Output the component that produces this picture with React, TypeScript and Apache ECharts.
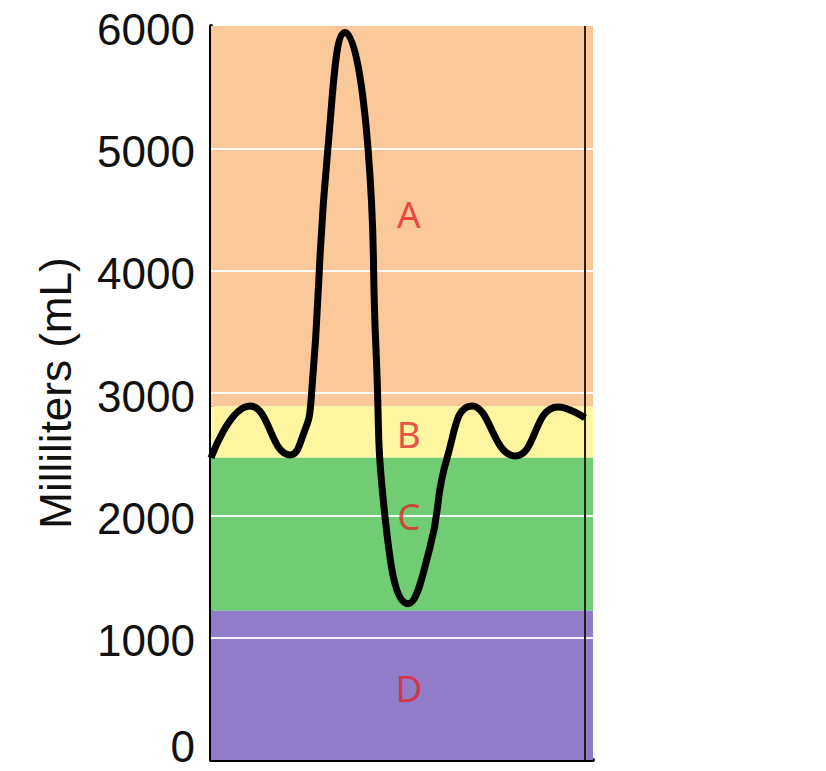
import React, { useEffect, useRef } from "react";
import * as echarts from "echarts";

// Spirogram trace: time position (0-100 across the chart) and volume in mL
const traceX = [0, 10.2, 20.7, 24.3, 26.2, 30.6, 35.1, 41.1, 43.2, 45.5, 51.6, 57.3, 61.8, 68.3, 79.6, 90.8, 97.9];
const traceY = [2470, 2894, 2494, 2673, 2943, 5000, 5947, 5000, 3351, 2004, 1278, 1735, 2469, 2894, 2486, 2886, 2796];

// Volume bands (mL)
const bandNames = ["A", "B", "C", "D"];
const bandLow = [2890, 2470, 1220, 0];
const bandHigh = [6000, 2890, 2470, 1220];
const bandColors = ["#FBC89A", "#FDF6A0", "#70CD73", "#917CC9"];

// Band letter positions
const letterX = [51.8, 51.8, 51.8, 51.8];
const letterY = [4469, 2665, 1996, 592];

// Y ticks / gridlines
const gridValues = [1000, 2000, 3000, 4000, 5000];
const endMarkerX = 97.8;

export default function App() {
  const ref = useRef<HTMLDivElement>(null);
  useEffect(() => {
    if (!ref.current) return;
    const chart = echarts.init(ref.current, undefined, { renderer: "svg" });
    const option: any = {
      animation: false,
      backgroundColor: "#ffffff",
      grid: { left: 211, right: 233, top: 26, bottom: 11, containLabel: false, outerBoundsMode: "none" },
      xAxis: {
        type: "value",
        min: 0,
        max: 100,
        axisLine: { show: true, onZero: false, lineStyle: { color: "#000", width: 4 } },
        axisTick: { show: false },
        axisLabel: { show: false },
        splitLine: { show: false },
      },
      yAxis: {
        type: "value",
        min: 0,
        max: 6000,
        interval: 1000,
        name: "Milliliters (mL)",
        nameLocation: "middle",
        nameGap: 134,
        nameTextStyle: { fontFamily: "Liberation Sans", fontSize: 44, color: "#111" },
        axisLine: { show: true, lineStyle: { color: "#000", width: 4 } },
        axisTick: { show: false },
        axisLabel: {
          fontFamily: "Liberation Sans",
          fontSize: 44,
          color: "#111",
          margin: 16,
          formatter: (v: number) => (v === 0 ? "{z|0}" : "{n|" + String(v) + "}"),
          rich: {
            z: { fontFamily: "Liberation Sans", fontSize: 44, lineHeight: 40, color: "#111", padding: [0, 0, 28, 0] },
            n: { fontFamily: "Liberation Sans", fontSize: 44, color: "#111", padding: [6, 0, 0, 0] },
          },
        },
        splitLine: { show: false },
      },
      series: [
        {
          type: "line",
          data: [],
          z: 1,
          silent: true,
          markArea: {
            silent: true,
            data: bandNames.map((n, i) => [
              { yAxis: bandLow[i], itemStyle: { color: bandColors[i] } },
              { yAxis: bandHigh[i] },
            ]),
          },
        },
        {
          type: "line",
          data: [],
          z: 2,
          silent: true,
          markLine: {
            silent: true,
            symbol: "none",
            label: { show: false },
            lineStyle: { color: "rgba(255,255,255,0.9)", width: 2, type: "solid" },
            data: gridValues.map((v) => ({ yAxis: v })),
          },
        },
        {
          type: "line",
          data: [],
          z: 4,
          silent: true,
          markLine: {
            silent: true,
            symbol: "none",
            label: { show: false },
            lineStyle: { color: "#2a1a12", width: 2, type: "solid" },
            data: [{ xAxis: endMarkerX }],
          },
        },
        {
          type: "line",
          z: 5,
          smooth: 0.5,
          showSymbol: false,
          lineStyle: { color: "#000", width: 7 },
          data: traceX.map((x, i) => [x, traceY[i]]),
        },
        {
          type: "scatter",
          z: 6,
          symbolSize: 0,
          label: {
            show: true,
            position: "inside",
            formatter: (p: any) => p.value[2],
            fontFamily: "Noto Sans",
            fontSize: 37,
            color: "#E4262A",
          },
          data: bandNames.map((n, i) => [letterX[i], letterY[i], n]),
        },
      ],
    };
    chart.setOption(option);
    return () => chart.dispose();
  }, []);
  return <div ref={ref} style={{ width: 826, height: 771, position: "absolute", left: 0, top: 0 }} />;
}
